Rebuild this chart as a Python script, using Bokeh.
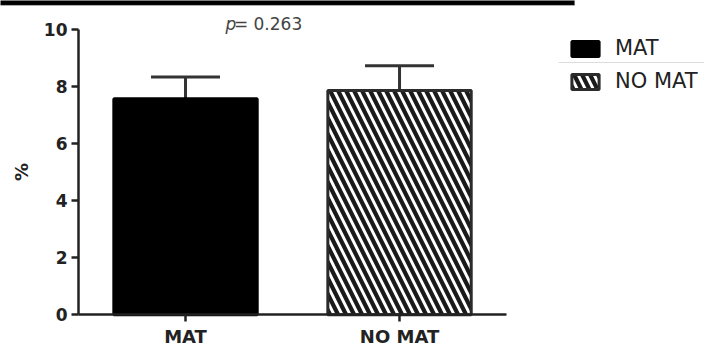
from bokeh.plotting import figure
from bokeh.models import (Range1d, Whisker, TeeHead, ColumnDataSource, LinearAxis,
                          Legend, LegendItem, Label, BoxAnnotation, FixedTicker)
from bokeh.embed import file_html
from bokeh.resources import INLINE

# ---- data ----
categories = ["MAT", "NO MAT"]
means = [7.58, 7.87]
errors = [0.76, 0.87]
y_ticks = [0, 2, 4, 6, 8, 10]
p_value = "0.263"
y_label = "%"

xpos = [i + 0.5 for i in range(len(categories))]
upper = [m + e for m, e in zip(means, errors)]

FONT = "DejaVu Sans"
AX = "#222222"

p = figure(width=704, height=347, x_range=Range1d(-0.3645, 2.925), y_range=Range1d(-1.147, 11.028),
           x_axis_type=None, y_axis_type=None, min_border=0,
           output_backend="svg", toolbar_location=None)
p.outline_line_color = None
p.xgrid.grid_line_color = None
p.ygrid.grid_line_color = None

r1 = p.vbar(x=[xpos[0]], top=[means[0]], width=0.67,
            fill_color="black", line_color="black", line_width=3)
r2 = p.vbar(x=[xpos[1]], top=[means[1]], width=0.67,
            fill_color="white", line_color="#2b2b2b", line_width=3,
            hatch_pattern="\\", hatch_color="#1a1a1a", hatch_scale=16, hatch_weight=4.2)

src = ColumnDataSource(dict(x=xpos, lower=means, upper=upper))
w = Whisker(source=src, base="x", lower="lower", upper="upper", dimension="height",
            line_color="#333333", line_width=3,
            upper_head=TeeHead(size=69, line_color="#333333", line_width=3), lower_head=None)
p.add_layout(w)

# axes at fixed locations
yaxis = LinearAxis(fixed_location=0, bounds=(0, 10), ticker=FixedTicker(ticks=y_ticks))
xaxis = LinearAxis(fixed_location=0, bounds=(0, len(categories)), ticker=FixedTicker(ticks=xpos),
                   major_label_overrides={x: c for x, c in zip(xpos, categories)})
for ax in (xaxis, yaxis):
    ax.axis_line_color = AX
    ax.axis_line_width = 2.5
    ax.major_tick_line_color = AX
    ax.major_tick_line_width = 2.5
    ax.major_tick_out = 7
    ax.major_tick_in = 0
    ax.minor_tick_out = 0
    ax.minor_tick_in = 0
    ax.major_label_text_font = FONT
    ax.major_label_text_font_style = "bold"
    ax.major_label_text_color = AX

yaxis.major_label_text_font_size = "17px"
yaxis.major_label_standoff = 4
yaxis.axis_label = y_label
yaxis.axis_label_text_font = FONT
yaxis.axis_label_text_font_style = "bold"
yaxis.axis_label_text_font_size = "18px"
yaxis.axis_label_text_color = AX
yaxis.axis_label_standoff = 9
xaxis.major_label_text_font_size = "18px"
xaxis.major_label_standoff = 4
p.add_layout(yaxis, "left")
p.add_layout(xaxis, "below")

# p-value annotation
p.add_layout(Label(x=0.687, y=10.19, text="p", text_font=FONT, text_font_style="italic",
                   text_font_size="17px", text_color="#444444", text_baseline="alphabetic"))
p.add_layout(Label(x=0.726, y=10.19, text="= " + p_value, text_font=FONT,
                   text_font_size="17px", text_color="#444444", text_baseline="alphabetic"))

# legend
legend = Legend(items=[LegendItem(label=categories[0], renderers=[r1]),
                       LegendItem(label=categories[1], renderers=[r2])],
                location=(568, 254), padding=0, margin=0, border_line_color=None,
                background_fill_alpha=0, glyph_width=34, glyph_height=19,
                label_standoff=13, spacing=9, label_height=19,
                label_text_font=FONT, label_text_font_size="21px", label_text_color="#222222")
p.add_layout(legend)

# legend separator & top border bar (decoration)
p.add_layout(BoxAnnotation(left=2.243, right=2.95, bottom=8.835, top=8.87,
                           fill_color="#dcdcdc", fill_alpha=1, line_color=None))
p.add_layout(BoxAnnotation(left=-0.5, right=2.318, bottom=10.86, top=11.3,
                           fill_color="black", fill_alpha=1, line_color="#777777", line_width=1))

open("out.html", "w").write(file_html(p, INLINE))
